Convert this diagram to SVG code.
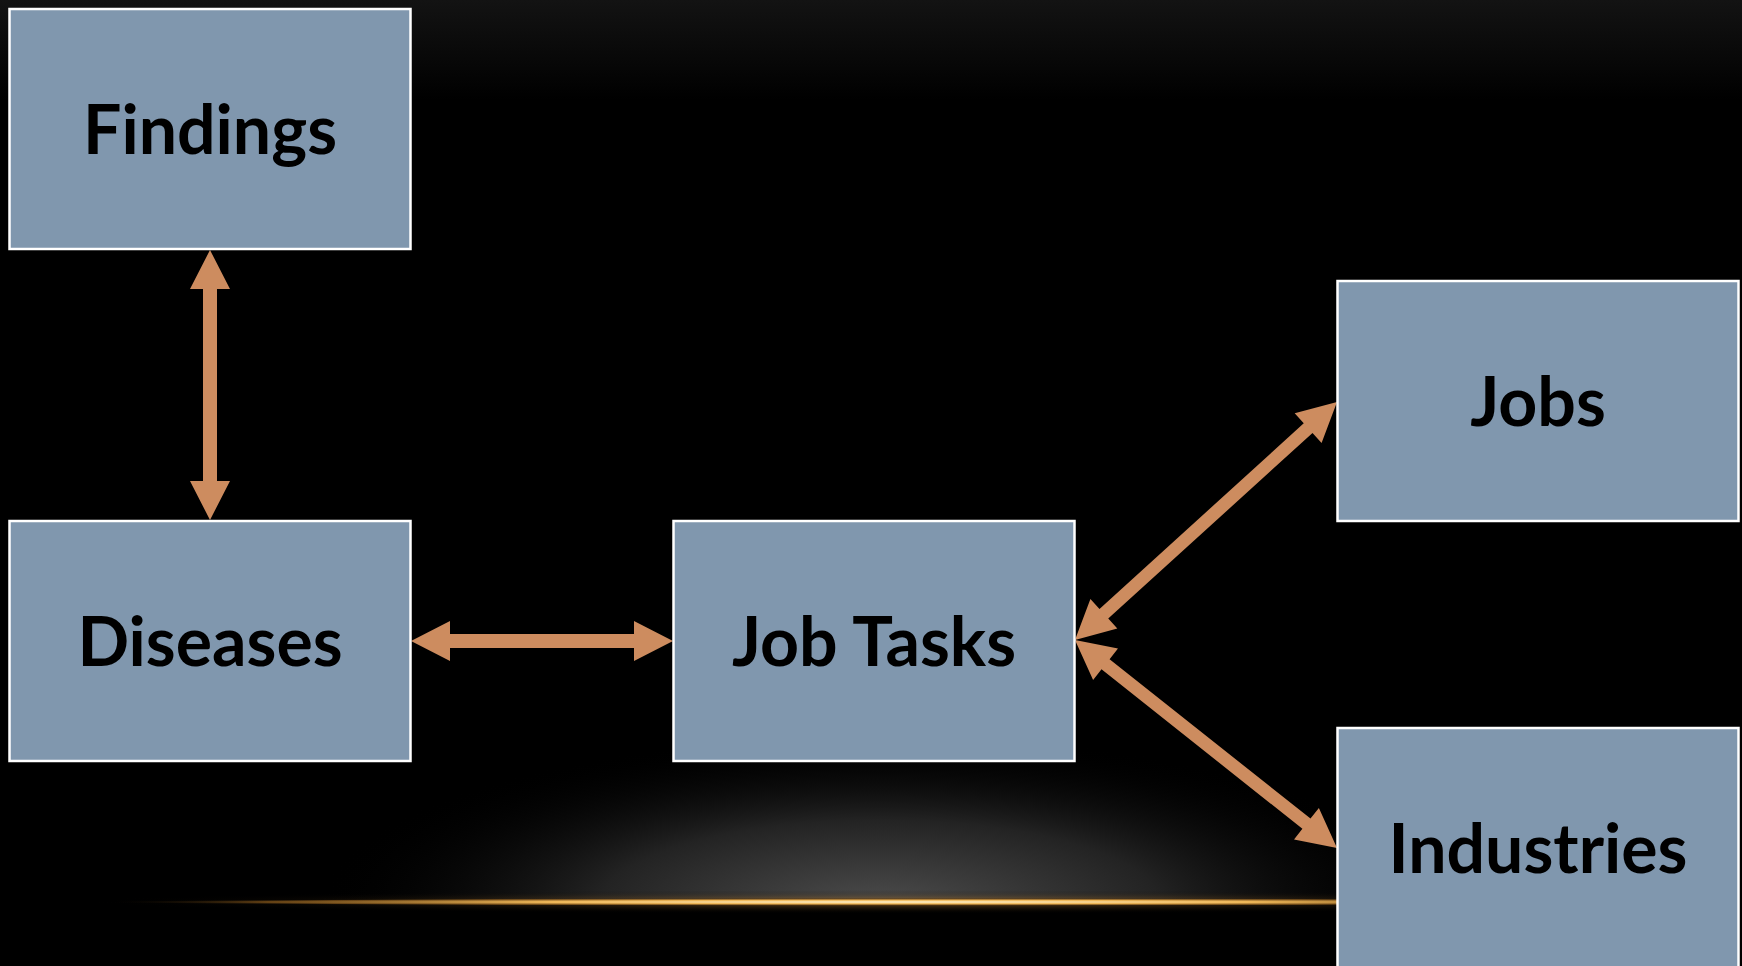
<svg xmlns="http://www.w3.org/2000/svg" width="1742" height="966" viewBox="0 0 1742 966">
<defs>
<linearGradient id="topg" x1="0" y1="0" x2="0" y2="1">
<stop offset="0" stop-color="#131313"/>
<stop offset="1" stop-color="#000000"/>
</linearGradient>
<radialGradient id="glow" cx="0.5" cy="0.5" r="0.5">
<stop offset="0" stop-color="#4c4c4c"/>
<stop offset="0.5" stop-color="#232323"/>
<stop offset="1" stop-color="#000000" stop-opacity="0"/>
</radialGradient>
<radialGradient id="line" cx="0.5" cy="0.5" r="0.5">
<stop offset="0" stop-color="#fff4d0"/>
<stop offset="0.45" stop-color="#f0b858"/>
<stop offset="0.8" stop-color="#8a5a1c" stop-opacity="0.7"/>
<stop offset="1" stop-color="#000000" stop-opacity="0"/>
</radialGradient>
<radialGradient id="linehalo" cx="0.5" cy="0.5" r="0.5">
<stop offset="0" stop-color="#c88a38" stop-opacity="0.6"/>
<stop offset="1" stop-color="#000000" stop-opacity="0"/>
</radialGradient>
<clipPath id="above"><rect x="0" y="0" width="1742" height="902"/></clipPath>
</defs>
<style>
.box{fill:#8097ae;stroke:#ffffff;stroke-width:2.5}
.lbl{font-family:Lato,"Open Sans","Liberation Sans",sans-serif;font-weight:bold;font-size:68px;fill:#000000;text-anchor:middle}
.arr{fill:#cd8c5f}
</style>
<rect x="0" y="0" width="1742" height="966" fill="#000000"/>
<rect x="0" y="0" width="1742" height="100" fill="url(#topg)"/>
<ellipse cx="880" cy="905" rx="560" ry="170" fill="url(#glow)" clip-path="url(#above)"/>
<ellipse cx="900" cy="902" rx="820" ry="12" fill="url(#linehalo)"/>
<ellipse cx="900" cy="902" rx="800" ry="4" fill="url(#line)"/>
<g id="connectors">
<polygon class="arr" transform="translate(210,250) rotate(90)" points="0,0 39,-20 39,-7 231,-7 231,-20 270,0 231,20 231,7 39,7 39,20"/>
<polygon class="arr" transform="translate(411,641)" points="0,0 39,-20 39,-7 223,-7 223,-20 262,0 223,20 223,7 39,7 39,20"/>
<polygon class="arr" transform="translate(1075,640) rotate(-42.26)" points="0,0 39,-20 39,-6.5 315,-6.5 315,-20 354,0 315,20 315,6.5 39,6.5 39,20"/>
<polygon class="arr" transform="translate(1075,640) rotate(38.44)" points="0,0 39,-20 39,-6.5 295.5,-6.5 295.5,-20 334.5,0 295.5,20 295.5,6.5 39,6.5 39,20"/>
</g>
<g id="findings">
<rect class="box" x="9.5" y="9" width="401" height="240"/>
<text class="lbl" x="210" y="154">Findings</text>
</g>
<g id="diseases">
<rect class="box" x="9.5" y="521" width="401" height="240"/>
<text class="lbl" x="210" y="666">Diseases</text>
</g>
<g id="jobtasks">
<rect class="box" x="673.5" y="521" width="401" height="240"/>
<text class="lbl" x="874" y="666">Job Tasks</text>
</g>
<g id="jobs">
<rect class="box" x="1337.5" y="281" width="401" height="240"/>
<text class="lbl" x="1538" y="426">Jobs</text>
</g>
<g id="industries">
<rect class="box" x="1337.5" y="728" width="401" height="240"/>
<text class="lbl" x="1538" y="873">Industries</text>
</g>
</svg>
